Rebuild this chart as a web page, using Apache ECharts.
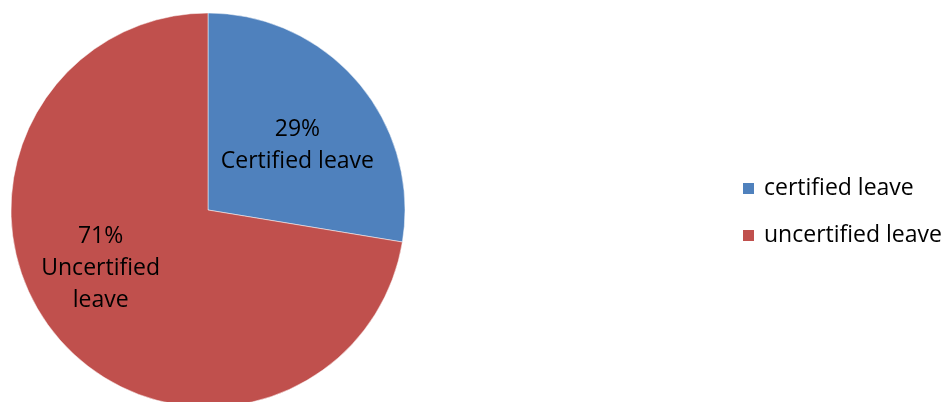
<!DOCTYPE html>
<html>
<head>
<meta charset="utf-8">
<script src="https://cdn.jsdelivr.net/npm/echarts@6/dist/echarts.min.js"></script>
<style>
  html, body { margin: 0; padding: 0; background: #fff; }
  #chart { width: 947px; height: 402px; }
</style>
</head>
<body>
<div id="chart"></div>
<script>
// leave types, slice sizes as drawn, and the percentages printed on the slices
var categories = ['certified leave', 'uncertified leave'];
var sliceLabels = ['Certified leave', 'Uncertified\nleave'];
var values = [27.6, 72.4];
var printedPct = ['29%', '71%'];
var colors = ['#4F81BD', '#C0504D'];

var chart = echarts.init(document.getElementById('chart'));

var pieData = categories.map(function (name, i) {
  return { name: name, value: values[i], itemStyle: { color: colors[i] } };
});

chart.setOption({
  animation: false,
  legend: {
    orient: 'vertical',
    left: 736,
    top: 172,
    itemWidth: 13,
    itemHeight: 13,
    itemGap: 24,
    icon: 'rect',
    textStyle: { fontFamily: 'Open Sans', fontSize: 23, color: '#000', padding: [0, 0, 0, 4] },
    data: categories
  },
  series: [{
    type: 'pie',
    center: [208, 210],
    radius: 197,
    startAngle: 90,
    clockwise: true,
    data: pieData,
    itemStyle: { borderColor: '#fff', borderWidth: 0.5 },
    label: {
      position: 'inside',
      fontFamily: 'Open Sans',
      fontSize: 23,
      lineHeight: 32,
      color: '#000',
      align: 'center',
      formatter: function (p) {
        return printedPct[p.dataIndex] + '\n' + sliceLabels[p.dataIndex];
      }
    },
    labelLine: { show: false },
    labelLayout: function (p) {
      // nudge labels a little, as in the source chart
      return p.dataIndex === 0 ? { dx: 12, dy: 1 } : { dx: -30, dy: -7 };
    }
  }]
});
</script>
</body>
</html>
